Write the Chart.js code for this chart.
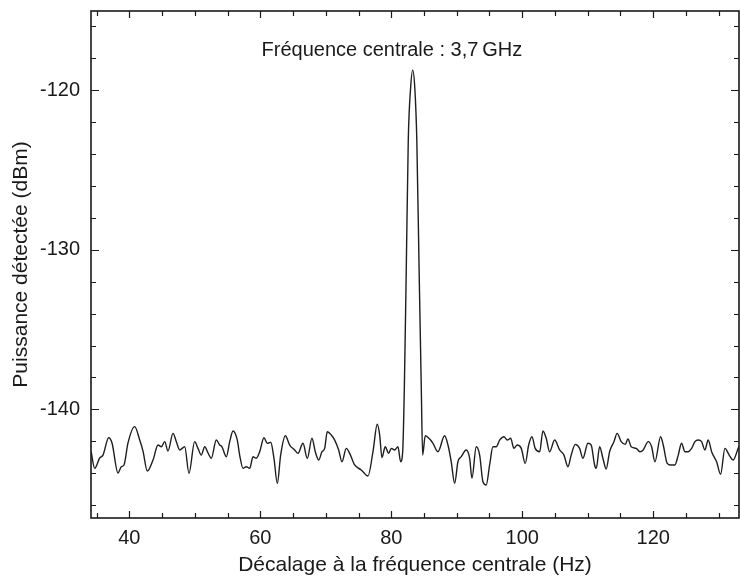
<!DOCTYPE html>
<html>
<head>
<meta charset="utf-8">
<script src="https://cdn.jsdelivr.net/npm/chart.js@4.4.1/dist/chart.umd.min.js"></script>
<style>
  html, body { margin: 0; padding: 0; background: #fff; }
  #wrap { width: 740px; height: 578px; }
</style>
</head>
<body>
<div id="wrap"><canvas id="spectrum" width="740" height="578"></canvas></div>
<script>
// Frequency offset (Hz) and detected power (dBm)
const freq = [
  34.15, 34.72, 35.48, 35.98, 36.85, 37.36, 38.27, 38.78, 39.19, 39.80,
  40.82, 41.59, 42.09, 42.75, 43.62, 44.38, 44.89, 45.40, 45.91, 46.67,
  47.18, 47.69, 48.46, 49.11, 49.98, 50.49, 50.99, 51.51, 52.02, 52.52,
  53.28, 53.80, 54.15, 54.81, 55.33, 55.83, 56.49, 56.85, 57.36, 57.86,
  58.38, 58.89, 59.39, 59.91, 60.56, 61.07, 61.59, 62.09, 62.60, 63.11,
  63.82, 64.49, 65.25, 65.76, 66.52, 67.18, 67.89, 68.40, 68.92, 69.42,
  69.83, 70.23, 70.84, 71.36, 71.97, 72.47, 73.13, 73.65, 74.41, 75.42,
  76.44, 77.21, 77.86, 78.23, 78.58, 79.08, 79.60, 80.00, 80.52, 81.02,
  81.43, 81.75, 82.00, 82.30, 82.60, 82.95, 83.27, 83.60, 83.90, 84.25,
  84.60, 84.79, 85.19, 85.86, 86.37, 87.13, 88.15, 88.66, 89.16, 89.68,
  90.18, 90.69, 91.45, 91.97, 92.32, 92.98, 93.50, 94.00, 94.50, 95.02,
  95.53, 96.03, 96.55, 97.21, 97.71, 98.23, 98.73, 99.24, 99.85, 100.46,
  100.98, 101.48, 101.98, 102.66, 103.16, 103.66, 104.18, 104.95, 105.71, 106.37,
  106.98, 107.48, 108.09, 108.76, 109.27, 110.03, 110.53, 111.05, 111.30, 111.82,
  112.32, 112.82, 113.34, 114.00, 114.50, 115.11, 115.73, 116.14, 116.64, 117.40,
  117.97, 118.47, 119.24, 119.76, 120.26, 121.13, 121.53, 122.14, 122.66, 123.31,
  123.82, 124.33, 124.84, 125.34, 125.86, 126.37, 126.87, 127.39, 127.89, 128.40,
  128.92, 129.68, 130.29, 130.95, 131.60, 132.21, 132.98, 133.16
];
const power = [
  -142.6, -143.69, -143.04, -142.86, -141.77, -142.10, -143.98, -143.59, -143.48, -142.10,
  -141.08, -141.92, -142.61, -143.86, -143.17, -142.23, -142.34, -142.02, -142.61, -141.50,
  -142.02, -142.54, -142.34, -144.00, -142.02, -142.44, -142.86, -142.34, -142.73, -143.06,
  -141.92, -142.23, -142.34, -142.96, -142.02, -141.35, -141.92, -142.86, -143.69, -143.59,
  -143.69, -142.96, -143.06, -142.65, -141.77, -142.12, -142.06, -143.06, -144.63, -142.86,
  -141.65, -142.23, -142.54, -142.75, -142.12, -143.06, -141.81, -142.65, -143.17, -142.65,
  -142.44, -141.40, -141.60, -141.92, -142.54, -143.28, -142.44, -142.75, -143.48, -143.79,
  -144.17, -142.65, -140.93, -141.60, -143.02, -142.34, -142.75, -142.44, -142.54, -142.34,
  -143.28, -142.60, -138.60, -131.00, -123.10, -119.90, -118.75, -119.90, -123.10, -131.20,
  -139.00, -142.86, -141.65, -141.85, -142.12, -142.65, -141.65, -142.23, -143.28, -144.63,
  -143.28, -142.96, -142.54, -143.06, -144.31, -142.34, -142.86, -144.53, -144.73, -143.48,
  -142.34, -142.34, -141.92, -141.71, -141.92, -141.81, -142.44, -142.23, -142.44, -143.38,
  -142.23, -141.71, -142.44, -142.65, -141.35, -141.81, -142.65, -141.92, -142.54, -142.86,
  -143.59, -142.86, -142.19, -142.44, -143.06, -142.12, -142.23, -143.48, -143.69, -142.34,
  -143.06, -143.73, -142.65, -142.02, -141.50, -142.02, -142.19, -141.85, -142.34, -142.44,
  -142.65, -142.54, -142.02, -142.34, -143.28, -141.71, -142.23, -143.38, -143.48, -143.48,
  -142.86, -142.12, -142.65, -142.65, -142.44, -142.02, -141.92, -142.02, -142.54, -141.92,
  -142.65, -143.28, -144.06, -142.44, -142.86, -143.17, -142.44, -142.30
];

// Axis ticks and labels
const xLabelTicks = [40, 60, 80, 100, 120];
const xMinorTicks = [35, 45, 50, 55, 65, 70, 75, 85, 90, 95, 105, 110, 115, 125, 130];
const yLabelTicks = [-140, -130, -120];
const yMinorTicks = [-146, -144, -142, -138, -136, -134, -132, -128, -126, -124, -122, -118, -116];

const xTitle = 'Décalage à la fréquence centrale (Hz)';
const yTitle = 'Puissance détectée (dBm)';
const peakNote = 'Fréquence centrale : 3,7\u2009GHz';

const FONT = "'Liberation Sans', Arial, Helvetica, sans-serif";
const INK = '#1a1a1a';

// Box frame with inward tick marks on all four sides, plus the annotation
const framePlugin = {
    id: 'frame',
    afterDatasetsDraw(chart) {
        const { ctx, chartArea: a, scales: { x, y } } = chart;
        ctx.save();
        ctx.strokeStyle = INK;
        ctx.lineWidth = 1.2;
        ctx.beginPath();
        const tickX = (v, len) => {
            const px = Math.round(x.getPixelForValue(v)) + 0.5;
            ctx.moveTo(px, a.bottom); ctx.lineTo(px, a.bottom - len);
            ctx.moveTo(px, a.top); ctx.lineTo(px, a.top + len);
        };
        const tickY = (v, len) => {
            const py = Math.round(y.getPixelForValue(v)) + 0.5;
            ctx.moveTo(a.left, py); ctx.lineTo(a.left + len, py);
            ctx.moveTo(a.right, py); ctx.lineTo(a.right - len, py);
        };
        xLabelTicks.forEach(v => tickX(v, 7));
        xMinorTicks.forEach(v => tickX(v, 5));
        yLabelTicks.forEach(v => tickY(v, 8));
        yMinorTicks.forEach(v => tickY(v, 5));
        ctx.stroke();
        ctx.lineWidth = 1.6;
        ctx.strokeRect(a.left, a.top, a.right - a.left, a.bottom - a.top);

        ctx.fillStyle = INK;
        ctx.font = '20px ' + FONT;
        ctx.textAlign = 'center';
        ctx.textBaseline = 'middle';
        ctx.fillText(peakNote, x.getPixelForValue(80.1), y.getPixelForValue(-117.5));
        ctx.restore();
    }
};

const ctx = document.getElementById('spectrum').getContext('2d');
new Chart(ctx, {
    type: 'line',
    data: {
        datasets: [{
            data: freq.map((f, i) => ({ x: f, y: power[i] })),
            borderColor: '#1e1e1e',
            borderWidth: 1.4,
            pointRadius: 0,
            cubicInterpolationMode: 'monotone',
            fill: false
        }]
    },
    options: {
        responsive: false,
        animation: false,
        layout: { padding: { top: 11, right: 1, left: 0, bottom: 0 } },
        plugins: { legend: { display: false }, tooltip: { enabled: false } },
        scales: {
            x: {
                type: 'linear',
                min: 34.15,
                max: 133.1,
                grid: { display: false, drawTicks: false },
                border: { display: false },
                afterBuildTicks: s => { s.ticks = xLabelTicks.map(v => ({ value: v })); },
                afterFit: s => { s.height = 60; s.paddingLeft = 0; s.paddingRight = 0; },
                ticks: { color: INK, padding: 8, maxRotation: 0, font: { family: FONT, size: 20 } },
                title: { display: true, text: xTitle, color: INK, padding: { top: 0, bottom: 0 }, font: { family: FONT, size: 21 } }
            },
            y: {
                min: -146.8,
                max: -115.05,
                grid: { display: false, drawTicks: false },
                border: { display: false },
                afterBuildTicks: s => { s.ticks = yLabelTicks.map(v => ({ value: v })); },
                afterFit: s => { s.width = 91; s.paddingTop = 0; s.paddingBottom = 0; },
                ticks: { color: INK, padding: 11, font: { family: FONT, size: 20 } },
                title: { display: true, text: yTitle, color: INK, padding: { top: 9, bottom: 0 }, font: { family: FONT, size: 21 } }
            }
        }
    },
    plugins: [framePlugin]
});
</script>
</body>
</html>
